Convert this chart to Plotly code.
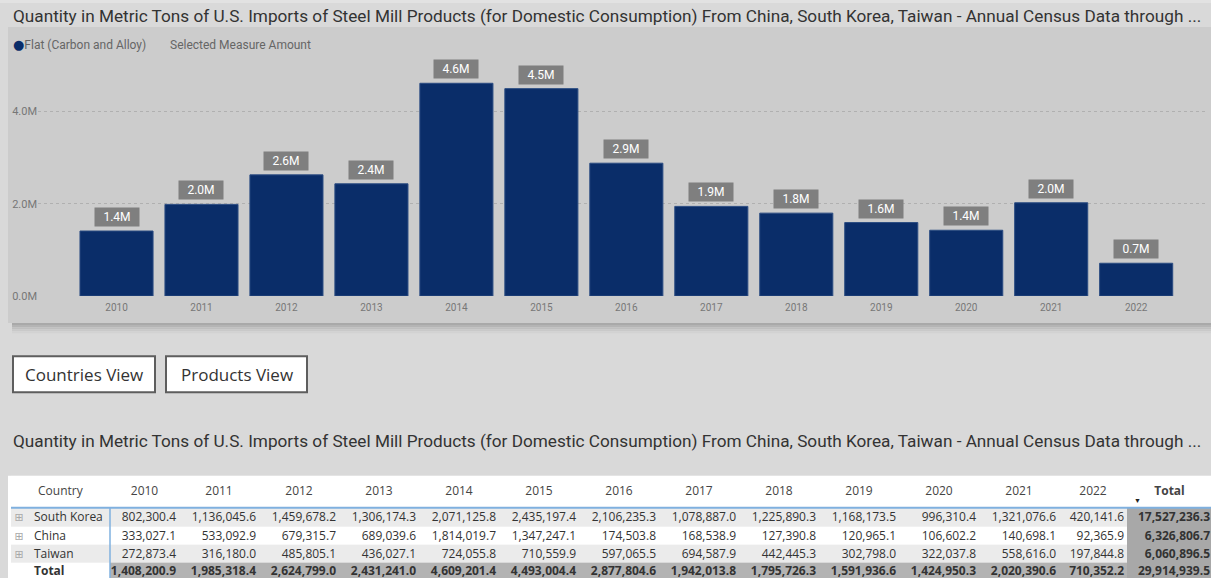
import plotly.graph_objects as go

W, H = 1211, 578          # reference pixel space
FIG_H = 587               # page viewport height (captured then fitted to 578)

years = ["2010", "2011", "2012", "2013", "2014", "2015", "2016",
         "2017", "2018", "2019", "2020", "2021", "2022"]
south_korea = [802300.4, 1136045.6, 1459678.2, 1306174.3, 2071125.8, 2435197.4, 2106235.3,
               1078887.0, 1225890.3, 1168173.5, 996310.4, 1321076.6, 420141.6]
china = [333027.1, 533092.9, 679315.7, 689039.6, 1814019.7, 1347247.1, 174503.8,
         168538.9, 127390.8, 120965.1, 106602.2, 140698.1, 92365.9]
taiwan = [272873.4, 316180.0, 485805.1, 436027.1, 724055.8, 710559.9, 597065.5,
          694587.9, 442445.3, 302798.0, 322037.8, 558616.0, 197844.8]
year_totals = [1408200.9, 1985318.4, 2624799.0, 2431241.0, 4609201.4, 4493004.4, 2877804.6,
               1942013.8, 1795726.3, 1591936.6, 1424950.3, 2020390.6, 710352.2]
country_names = ["South Korea", "China", "Taiwan"]
country_totals = [17527236.3, 6326806.7, 6060896.5]
grand_total = 29914939.5

ytick_vals = [0, 2e6, 4e6]
ytick_text = ["0.0M", "2.0M", "4.0M"]

title_text = ("Quantity in Metric Tons of U.S. Imports of Steel Mill Products (for Domestic "
              "Consumption) From China, South Korea, Taiwan - Annual Census Data through ...")

NAVY = "#0a2d69"
PAGE = "#d9d9d9"
PANEL = "#cccccc"
ROW_A = "#ebebeb"
TOT_ROW = "#b3b3b3"
TOT_COL = "#a8a8a8"
TXT = "#333333"
FONT_T = "Open Sans"


def px(x):
    return x / W


def py(y):
    return 1 - y / H


fig = go.Figure()

# ================= bar chart =================
fig.add_trace(go.Bar(
    x=list(range(len(years))), y=year_totals,
    marker=dict(color=NAVY, line=dict(color="#2b4c82", width=1)),
    hoverinfo="y", showlegend=False,
))

annotations = []
for i, v in enumerate(year_totals):
    annotations.append(dict(
        x=i, y=v, xref="x", yref="y", yshift=14,
        text=f"{v/1e6:.1f}M", showarrow=False,
        font=dict(family="Roboto", size=12, color="white"),
        bgcolor="#7f7f7f", borderpad=2, width=40, height=14,
    ))

annotations.append(dict(
    x=px(11), y=py(16), xref="paper", yref="paper", xanchor="left", yanchor="middle",
    text=title_text, showarrow=False,
    font=dict(family="Roboto", size=17.2, color=TXT)))
annotations.append(dict(
    x=px(11), y=py(44), xref="paper", yref="paper", xanchor="left", yanchor="middle",
    text=("<span style='color:%s;font-family:DejaVu Sans;font-size:13px'>●</span>"
          "Flat (Carbon and Alloy)        Selected Measure Amount") % NAVY,
    showarrow=False, font=dict(family="Roboto", size=12, color="#666666")))
annotations.append(dict(
    x=px(11), y=py(439), xref="paper", yref="paper", xanchor="left", yanchor="middle",
    text=title_text, showarrow=False,
    font=dict(family="Roboto", size=17.2, color=TXT)))

for label, x0, x1 in [("Countries View", 13, 155), ("Products View", 166, 307)]:
    annotations.append(dict(
        x=px((x0 + x1) / 2), y=py(373), xref="paper", yref="paper",
        xanchor="center", yanchor="middle", text=label, showarrow=False,
        font=dict(family=FONT_T, size=17, color=TXT)))

shapes = [
    dict(type="rect", xref="paper", yref="paper", x0=px(8), x1=1, y0=py(322), y1=py(27),
         fillcolor=PANEL, line=dict(width=0), layer="below"),
    dict(type="rect", xref="paper", yref="paper", x0=0, x1=1, y0=py(3), y1=1,
         fillcolor="#e2e2e2", line=dict(width=0), layer="below"),
]
for i, c in enumerate(["#a9a9a9", "#b4b4b4", "#bfbfbf", "#c9c9c9", "#d2d2d2"]):
    shapes.append(dict(type="rect", xref="paper", yref="paper", x0=px(12), x1=1,
                       y0=py(324 + 2 * i), y1=py(322 + 2 * i),
                       fillcolor=c, line=dict(width=0), layer="below"))
for x0, x1 in [(13, 155), (166, 307)]:
    shapes.append(dict(type="rect", xref="paper", yref="paper",
                       x0=px(x0), x1=px(x1), y0=py(391), y1=py(355),
                       fillcolor="white", line=dict(color="#5e5e5e", width=2), layer="below"))
shapes.append(dict(type="rect", xref="paper", yref="paper", x0=px(8), x1=1,
                   y0=0, y1=py(474), fillcolor="white", line=dict(width=0), layer="below"))

# ================= matrix table (heatmap fills + text) =================
col_widths = [99, 69] + [80] * 11 + [68, 85]
col_edges = [11]
for w in col_widths:
    col_edges.append(col_edges[-1] + w)
row_edges = [474, 506, 525, 543, 561, 578]   # header + 3 countries + total
ncol = len(col_widths)

z = [[0] * ncol]
for r in range(3):
    band = 1 if r != 1 else 0
    z.append([band] * (ncol - 1) + [3])
z.append([0] + [2] * (ncol - 2) + [3])

fig.add_trace(go.Heatmap(
    x=col_edges, y=row_edges, z=z, xaxis="x2", yaxis="y2",
    zmin=0, zmax=4, showscale=False, hoverinfo="skip",
    colorscale=[[0, "white"], [0.2, "white"], [0.2, ROW_A], [0.45, ROW_A],
                [0.45, TOT_ROW], [0.7, TOT_ROW], [0.7, TOT_COL], [1, TOT_COL]],
))

fmt = lambda v: f"{v:,.1f}"
row_mid = [(row_edges[i] + row_edges[i + 1]) / 2 + 1 for i in range(len(row_edges) - 1)]
row_mid[0] = 490

hx, hy, ht, hp = [], [], [], []
hx.append(col_edges[0] + 27); hy.append(row_mid[0]); ht.append("Country"); hp.append("middle right")
for j, yr in enumerate(years):
    hx.append((col_edges[j + 1] + col_edges[j + 2]) / 2); hy.append(row_mid[0])
    ht.append(yr); hp.append("middle center")
hx.append((col_edges[-2] + col_edges[-1]) / 2); hy.append(row_mid[0])
ht.append("<b>Total</b>"); hp.append("middle center")
fig.add_trace(go.Scatter(
    x=hx, y=hy, text=ht, mode="text", textposition=hp, xaxis="x2", yaxis="y2",
    textfont=dict(family=FONT_T, size=12, color="#444444"),
    hoverinfo="skip", showlegend=False, cliponaxis=False))

bx, by, bt, bp = [], [], [], []
series = [south_korea, china, taiwan]
for r in range(4):
    yy = row_mid[r + 1]
    name = country_names[r] if r < 3 else "<b>Total</b>"
    bx.append(col_edges[0] + 23); by.append(yy); bt.append(name); bp.append("middle right")
    for j in range(len(years)):
        v = series[r][j] if r < 3 else year_totals[j]
        s = fmt(v) if r < 3 else "<b>" + fmt(v) + "</b>"
        bx.append(col_edges[j + 2] - 3); by.append(yy); bt.append(s); bp.append("middle left")
    tv = country_totals[r] if r < 3 else grand_total
    bx.append(col_edges[-1] - 2); by.append(yy); bt.append("<b>" + fmt(tv) + "</b>")
    bp.append("middle left")
fig.add_trace(go.Scatter(
    x=bx, y=by, text=bt, mode="text", textposition=bp, xaxis="x2", yaxis="y2",
    textfont=dict(family=FONT_T, size=12, color=TXT),
    hoverinfo="skip", showlegend=False, cliponaxis=False))

fig.add_trace(go.Scatter(
    x=[col_edges[0] + 8] * 3, y=row_mid[1:4], text=["⊞"] * 3, mode="text",
    textposition="middle center", xaxis="x2", yaxis="y2",
    textfont=dict(family="DejaVu Sans", size=11, color="#a8a8a8"),
    hoverinfo="skip", showlegend=False, cliponaxis=False))

annotations.append(dict(
    x=col_edges[-2] + 10, y=499, xref="x2", yref="y2", xanchor="center", yanchor="middle",
    text="▼", showarrow=False, font=dict(size=7, color="#222222")))

shapes.append(dict(type="line", xref="x2", yref="y2", x0=col_edges[0], x1=W,
                   y0=row_edges[1], y1=row_edges[1], line=dict(color="#7fb0df", width=2),
                   layer="above"))
shapes.append(dict(type="line", xref="x2", yref="y2", x0=col_edges[1], x1=col_edges[1],
                   y0=row_edges[1], y1=row_edges[-1], line=dict(color="#7fb0df", width=1.5),
                   layer="above"))

fig.update_layout(
    width=W, height=FIG_H, autosize=False,
    margin=dict(l=0, r=0, t=0, b=0),
    paper_bgcolor=PAGE, plot_bgcolor="rgba(0,0,0,0)",
    bargap=0.14,
    annotations=annotations, shapes=shapes,
    xaxis=dict(domain=[px(38), px(1205)], range=[-0.924, 12.81],
               tickvals=list(range(len(years))), ticktext=years,
               showgrid=False, showline=False, ticks="", zeroline=False,
               ticklabelstandoff=4,
               tickfont=dict(family="Roboto", size=10, color="#777777")),
    yaxis=dict(domain=[py(295), py(60)], range=[0, 5.109e6],
               tickvals=ytick_vals, ticktext=ytick_text,
               showgrid=True, gridcolor="#b0b0b0", griddash="dot", gridwidth=1,
               zeroline=False, showline=False, ticks="",
               tickfont=dict(family="Roboto", size=11, color="#777777")),
    xaxis2=dict(domain=[0, 1], range=[0, W], visible=False, fixedrange=True),
    yaxis2=dict(domain=[0, py(474)], range=[H, 474], visible=False, fixedrange=True),
    showlegend=False,
)

fig.write_html(
    "out.html",
    config={"displayModeBar": False},
    post_script=("document.documentElement.style.margin='0px';"
                 "document.body.style.margin='0px';"
                 "document.documentElement.style.overflow='hidden';"
                 "document.body.style.overflow='hidden';"),
)
